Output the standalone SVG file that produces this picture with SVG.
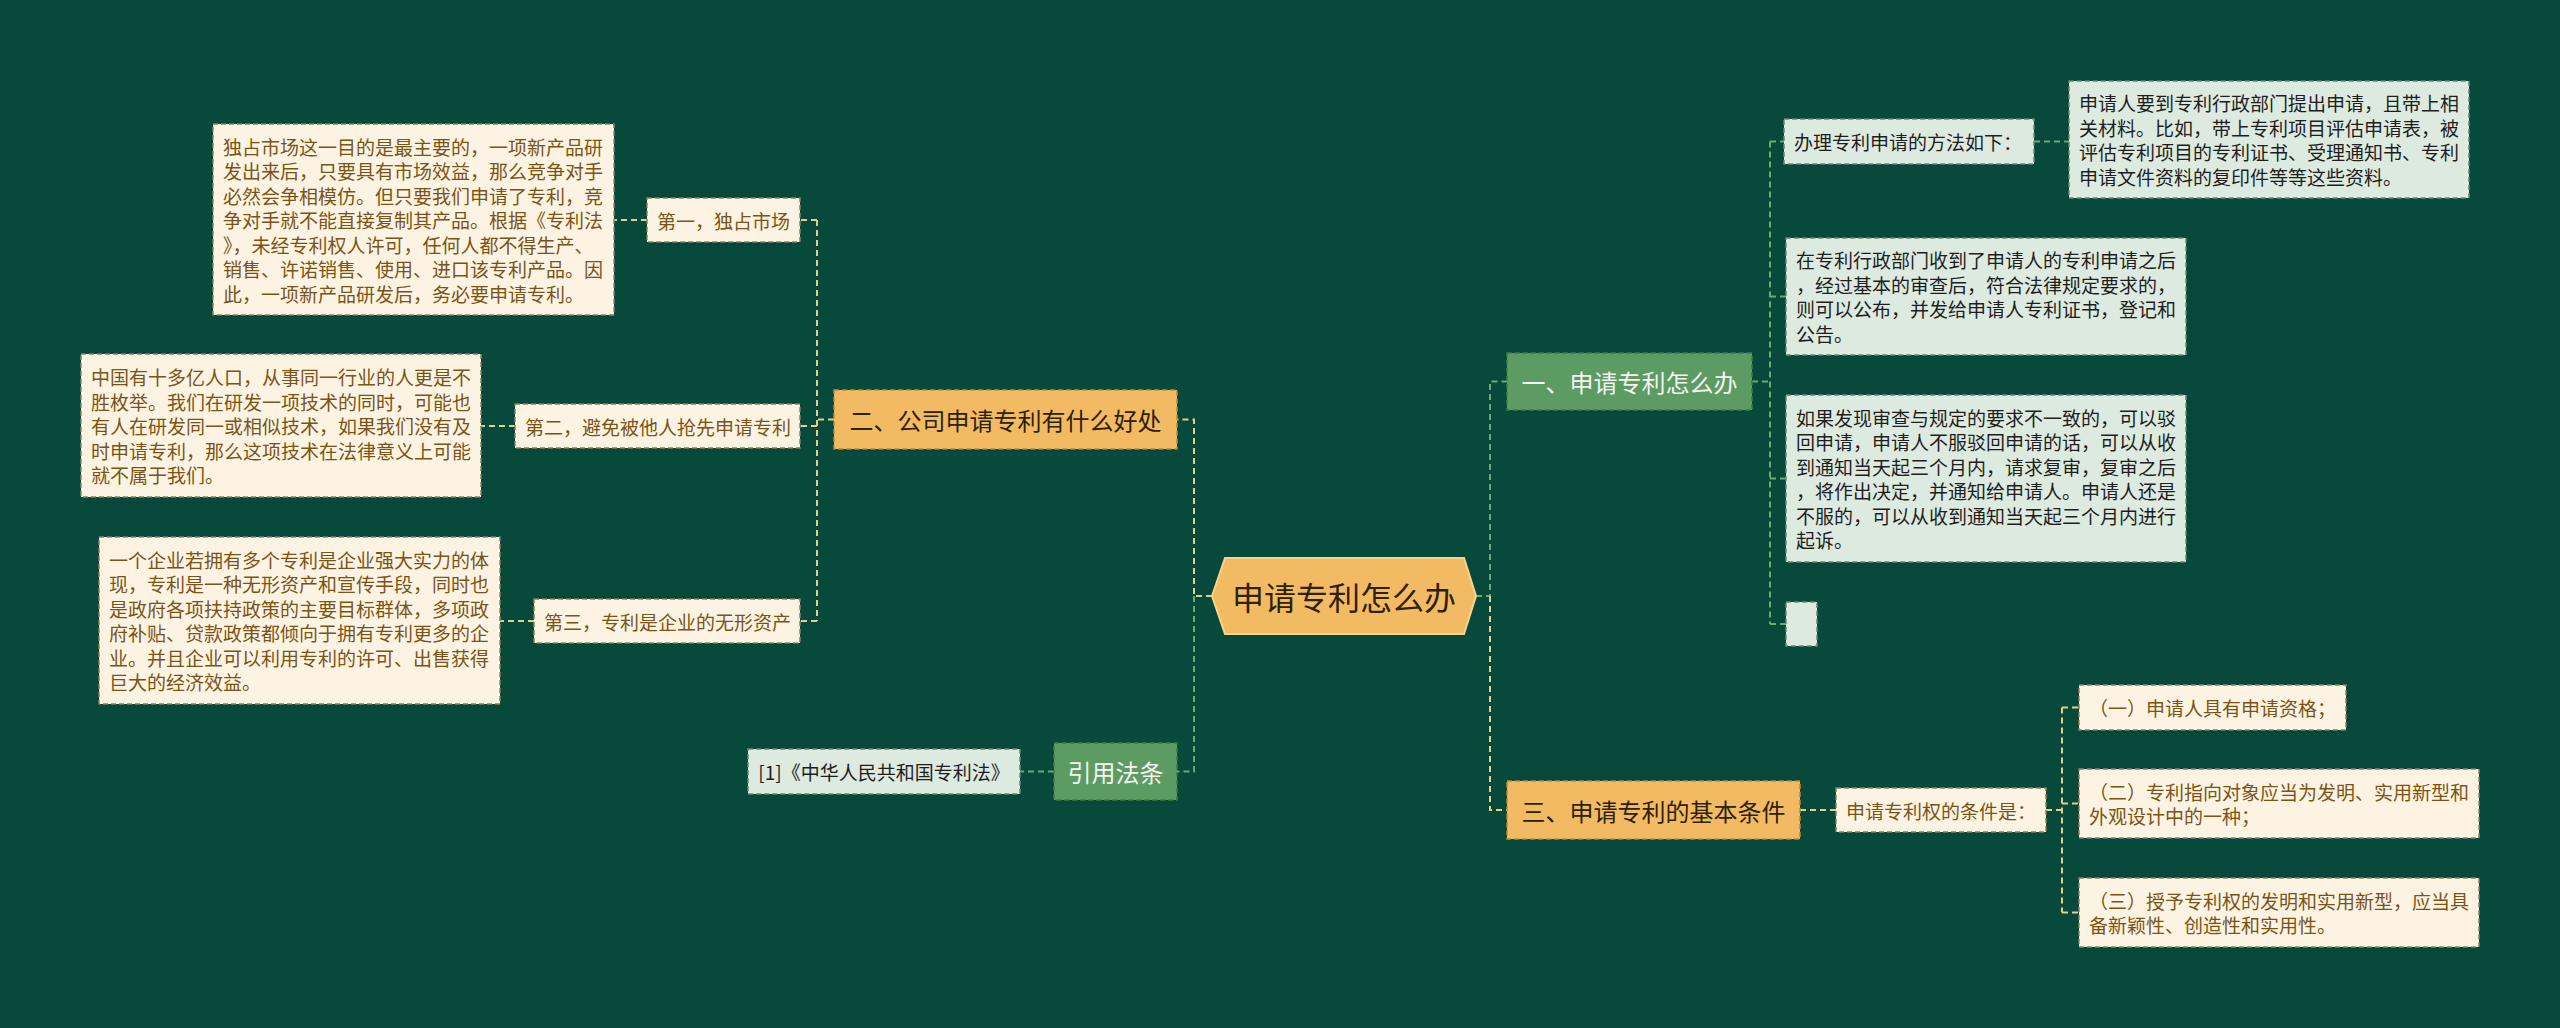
<svg xmlns="http://www.w3.org/2000/svg" width="2560" height="1028" viewBox="0 0 2560 1028">
<style>
text{font-family:"Noto Sans CJK SC","Noto Sans",sans-serif;dominant-baseline:central}
.cream{fill:#FDF3E2;stroke:#8f7f5c;stroke-width:1.5;stroke-dasharray:5 3}
.mint{fill:#DCEADF;stroke:#6f8577;stroke-width:1.5;stroke-dasharray:5 3}
.orange{fill:#F2BB63;stroke:#b88a3c;stroke-width:1.5;stroke-dasharray:5 3}
.green{fill:#5C9C63;stroke:#3f7a48;stroke-width:1.5;stroke-dasharray:5 3}
.tb{font-size:19px;fill:#7A5416}
.td{font-size:19px;fill:#1e1e1e}
.tm{font-size:24px}
.ty{stroke:#E3CF8A;stroke-width:2;stroke-dasharray:6 4;fill:none}
.tg{stroke:#6DAA78;stroke-width:2;stroke-dasharray:6 4;fill:none}
</style>
<rect width="2560" height="1028" fill="#07493A"/>
<g id="connectors">
<path class="ty" d="M1212 596 H1194 V419.5 H1177"/>
<path class="tg" d="M1194 596 V771.5 H1177"/>
<path class="tg" d="M1476 596 H1490 V381.5 H1507"/>
<path class="ty" d="M1490 596 V810 H1507"/>
<path class="ty" d="M834 419.5 H817 M817 220 V621 M817 220 H800 M817 426 H800 M817 621 H800"/>
<path class="ty" d="M647 220 H614 M515 426 H481 M534 621 H500"/>
<path class="tg" d="M1054 771.5 H1020"/>
<path class="tg" d="M1752 381.5 H1770 M1770 141.5 V624 M1770 141.5 H1784 M1770 296.5 H1786 M1770 478.5 H1786 M1770 624 H1786"/>
<path class="tg" d="M2034 141.5 H2069"/>
<path class="ty" d="M1800 810 H1836 M2046 810 H2062 M2062 707.5 V912.5 M2062 707.5 H2079 M2062 803.5 H2079 M2062 912.5 H2079"/>
</g>
<g id="root">
<polygon points="1212,596 1225,558 1464,558 1476,596 1464,634 1225,634" fill="#F2BB63" stroke="#F6D48E" stroke-width="2"/>
<text x="1344" y="596" text-anchor="middle" font-size="32" fill="#2E2106">申请专利怎么办</text>
</g>
<g id="n2">
<rect class="orange" x="834" y="390" width="343" height="59"/>
<text class="tm" x="1005.5" y="419.5" text-anchor="middle" fill="#2E2106">二、公司申请专利有什么好处</text>
</g>
<g id="n2a">
<rect class="cream" x="647" y="198" width="153" height="44"/>
<text class="tb" x="657" y="220">第一，独占市场</text>
</g>
<g id="n2a1">
<rect class="cream" x="213" y="124" width="401" height="191"/>
<text class="tb" x="223" y="146">独占市场这一目的是最主要的，一项新产品研</text>
<text class="tb" x="223" y="170.5">发出来后，只要具有市场效益，那么竞争对手</text>
<text class="tb" x="223" y="195">必然会争相模仿。但只要我们申请了专利，竞</text>
<text class="tb" x="223" y="219.5">争对手就不能直接复制其产品。根据《专利法</text>
<text class="tb" x="223" y="244">》，未经专利权人许可，任何人都不得生产、</text>
<text class="tb" x="223" y="268.5">销售、许诺销售、使用、进口该专利产品。因</text>
<text class="tb" x="223" y="293">此，一项新产品研发后，务必要申请专利。</text>
</g>
<g id="n2b">
<rect class="cream" x="515" y="404" width="285" height="44"/>
<text class="tb" x="525" y="426">第二，避免被他人抢先申请专利</text>
</g>
<g id="n2b1">
<rect class="cream" x="81" y="354" width="400" height="143"/>
<text class="tb" x="91" y="376.5">中国有十多亿人口，从事同一行业的人更是不</text>
<text class="tb" x="91" y="401">胜枚举。我们在研发一项技术的同时，可能也</text>
<text class="tb" x="91" y="425.5">有人在研发同一或相似技术，如果我们没有及</text>
<text class="tb" x="91" y="450">时申请专利，那么这项技术在法律意义上可能</text>
<text class="tb" x="91" y="474.5">就不属于我们。</text>
</g>
<g id="n2c">
<rect class="cream" x="534" y="599" width="266" height="44"/>
<text class="tb" x="544" y="621">第三，专利是企业的无形资产</text>
</g>
<g id="n2c1">
<rect class="cream" x="99" y="537" width="401" height="167"/>
<text class="tb" x="109" y="559.25">一个企业若拥有多个专利是企业强大实力的体</text>
<text class="tb" x="109" y="583.75">现，专利是一种无形资产和宣传手段，同时也</text>
<text class="tb" x="109" y="608.25">是政府各项扶持政策的主要目标群体，多项政</text>
<text class="tb" x="109" y="632.75">府补贴、贷款政策都倾向于拥有专利更多的企</text>
<text class="tb" x="109" y="657.25">业。并且企业可以利用专利的许可、出售获得</text>
<text class="tb" x="109" y="681.75">巨大的经济效益。</text>
</g>
<g id="n4">
<rect class="green" x="1054" y="743" width="123" height="57"/>
<text class="tm" x="1115.5" y="771.5" text-anchor="middle" fill="#F4F4F0">引用法条</text>
</g>
<g id="n4a">
<rect class="mint" x="748" y="749" width="272" height="45"/>
<text class="td" x="884" y="771.5" text-anchor="middle">[1]《中华人民共和国专利法》</text>
</g>
<g id="n1">
<rect class="green" x="1507" y="353" width="245" height="57"/>
<text class="tm" x="1629.5" y="381.5" text-anchor="middle" fill="#F4F4F0">一、申请专利怎么办</text>
</g>
<g id="n1a">
<rect class="mint" x="1784" y="119" width="250" height="45"/>
<text class="td" x="1794" y="141.5">办理专利申请的方法如下：</text>
</g>
<g id="n1a1">
<rect class="mint" x="2069" y="81" width="400" height="117"/>
<text class="td" x="2079" y="102.75">申请人要到专利行政部门提出申请，且带上相</text>
<text class="td" x="2079" y="127.25">关材料。比如，带上专利项目评估申请表，被</text>
<text class="td" x="2079" y="151.75">评估专利项目的专利证书、受理通知书、专利</text>
<text class="td" x="2079" y="176.25">申请文件资料的复印件等等这些资料。</text>
</g>
<g id="n1b">
<rect class="mint" x="1786" y="238" width="400" height="117"/>
<text class="td" x="1796" y="259.75">在专利行政部门收到了申请人的专利申请之后</text>
<text class="td" x="1796" y="284.25">，经过基本的审查后，符合法律规定要求的，</text>
<text class="td" x="1796" y="308.75">则可以公布，并发给申请人专利证书，登记和</text>
<text class="td" x="1796" y="333.25">公告。</text>
</g>
<g id="n1c">
<rect class="mint" x="1786" y="395" width="400" height="167"/>
<text class="td" x="1796" y="417.25">如果发现审查与规定的要求不一致的，可以驳</text>
<text class="td" x="1796" y="441.75">回申请，申请人不服驳回申请的话，可以从收</text>
<text class="td" x="1796" y="466.25">到通知当天起三个月内，请求复审，复审之后</text>
<text class="td" x="1796" y="490.75">，将作出决定，并通知给申请人。申请人还是</text>
<text class="td" x="1796" y="515.25">不服的，可以从收到通知当天起三个月内进行</text>
<text class="td" x="1796" y="539.75">起诉。</text>
</g>
<g id="n1d">
<rect class="mint" x="1786" y="602" width="31" height="44"/>
</g>
<g id="n3">
<rect class="orange" x="1507" y="781" width="293" height="58"/>
<text class="tm" x="1653.5" y="810" text-anchor="middle" fill="#2E2106">三、申请专利的基本条件</text>
</g>
<g id="n3a">
<rect class="cream" x="1836" y="788" width="210" height="44"/>
<text class="tb" x="1846" y="810">申请专利权的条件是：</text>
</g>
<g id="n3a1">
<rect class="cream" x="2079" y="685" width="267" height="45"/>
<text class="tb" x="2089" y="707.5">（一）申请人具有申请资格；</text>
</g>
<g id="n3a2">
<rect class="cream" x="2079" y="769" width="400" height="69"/>
<text class="tb" x="2089" y="791.25">（二）专利指向对象应当为发明、实用新型和</text>
<text class="tb" x="2089" y="815.75">外观设计中的一种；</text>
</g>
<g id="n3a3">
<rect class="cream" x="2079" y="878" width="400" height="69"/>
<text class="tb" x="2089" y="900.25">（三）授予专利权的发明和实用新型，应当具</text>
<text class="tb" x="2089" y="924.75">备新颖性、创造性和实用性。</text>
</g>
</svg>
